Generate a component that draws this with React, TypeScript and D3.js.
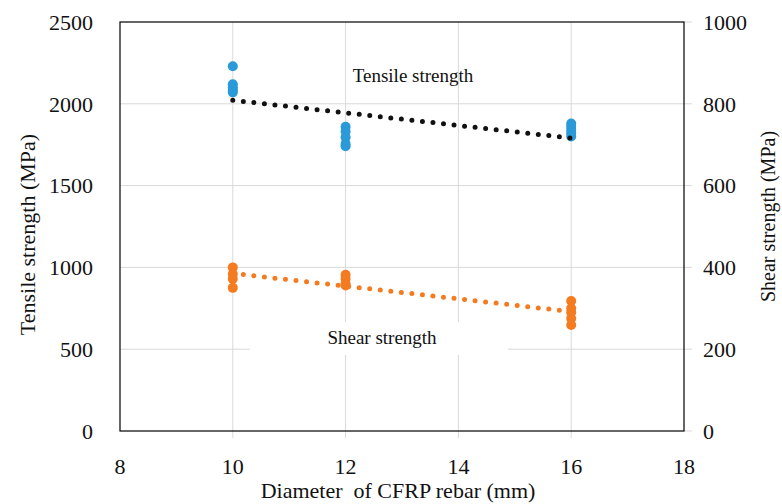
import React, { useEffect, useRef } from 'react';
import * as d3 from 'd3';

// Diameter groups (mm)
const diameters = [10, 12, 16];
// Tensile strength samples (MPa), per diameter
const tensile10 = [2230, 2120, 2100, 2085, 2070];
const tensile12 = [1860, 1830, 1795, 1755, 1740];
const tensile16 = [1880, 1860, 1840, 1820, 1800];
// Shear strength samples (MPa), per diameter
const shear10 = [400, 384, 372, 350];
const shear12 = [382, 372, 360, 356];
const shear16 = [318, 300, 290, 275, 259];

const xTicks = [8, 10, 12, 14, 16, 18];
const leftTicks = [0, 500, 1000, 1500, 2000, 2500];
const rightTicks = [0, 200, 400, 600, 800, 1000];

const W = 782;
const H = 504;
const FONT = '"Liberation Serif", "Times New Roman", serif';

const fitLine = (pts: [number, number][]) => {
  const mx = d3.mean(pts, p => p[0]) as number;
  const my = d3.mean(pts, p => p[1]) as number;
  const num = d3.sum(pts, p => (p[0] - mx) * (p[1] - my));
  const den = d3.sum(pts, p => (p[0] - mx) ** 2);
  const slope = num / den;
  return (x: number) => my + slope * (x - mx);
};

const App = () => {
  const ref = useRef<SVGSVGElement>(null);

  useEffect(() => {
    const svg = d3.select(ref.current);
    svg.selectAll('*').remove();

    const margin = { top: 22, right: 98, bottom: 73, left: 120 };
    const x = d3.scaleLinear().domain([8, 18]).range([margin.left, W - margin.right]);
    const yL = d3.scaleLinear().domain([0, 2500]).range([H - margin.bottom, margin.top]);
    const yR = d3.scaleLinear().domain([0, 1000]).range([H - margin.bottom, margin.top]);
    const x0 = x(8), x1 = x(18), y0 = yL(0), y1 = yL(2500);

    svg.append('rect').attr('width', W).attr('height', H).attr('fill', '#fff');

    // grid
    const grid = svg.append('g').attr('stroke', '#d9d9d9').attr('stroke-width', 1);
    leftTicks.slice(1, -1).forEach(t => {
      grid.append('line').attr('x1', x0).attr('x2', x1 + 8).attr('y1', yL(t)).attr('y2', yL(t));
    });
    xTicks.slice(1, -1).forEach(t => {
      grid.append('line').attr('x1', x(t)).attr('x2', x(t)).attr('y1', y1).attr('y2', y0 + 7);
    });
    grid.append('line').attr('x1', x1).attr('x2', x1 + 8).attr('y1', y0).attr('y2', y0);
    grid.append('line').attr('x1', x1).attr('x2', x1 + 8).attr('y1', y1).attr('y2', y1);

    const tensile: [number, number][] = [];
    [tensile10, tensile12, tensile16].forEach((arr, i) => arr.forEach(v => tensile.push([diameters[i], v])));
    const shear: [number, number][] = [];
    [shear10, shear12, shear16].forEach((arr, i) => arr.forEach(v => shear.push([diameters[i], v])));

    // label boxes
    svg.append('rect').attr('x', 250).attr('y', 322).attr('width', 258).attr('height', 33).attr('fill', '#fff');

    svg.append('text').attr('x', 413).attr('y', 82).attr('text-anchor', 'middle')
      .style('font-family', FONT).style('font-size', '19px').attr('fill', '#111').text('Tensile strength');
    svg.append('text').attr('x', 382).attr('y', 344).attr('text-anchor', 'middle')
      .style('font-family', FONT).style('font-size', '19px').attr('fill', '#111').text('Shear strength');

    // points
    svg.append('g').selectAll('circle').data(tensile).join('circle')
      .attr('cx', d => x(d[0])).attr('cy', d => yL(d[1])).attr('r', 5).attr('fill', '#2a9ad8');
    svg.append('g').selectAll('circle').data(shear).join('circle')
      .attr('cx', d => x(d[0])).attr('cy', d => yR(d[1])).attr('r', 5).attr('fill', '#f47b20');

    // trendlines
    const ft = fitLine(tensile);
    const fs = fitLine(shear);
    const line = d3.line<number>();
    svg.append('path')
      .attr('d', line([[x(10), yL(ft(10))], [x(16), yL(ft(16))]] as any))
      .attr('stroke', '#111').attr('stroke-width', 5).attr('stroke-linecap', 'round')
      .attr('stroke-dasharray', '0 10.6').attr('fill', 'none');
    svg.append('path')
      .attr('d', line([[x(10), yR(fs(10))], [x(16), yR(fs(16))]] as any))
      .attr('stroke', '#f47b20').attr('stroke-width', 5).attr('stroke-linecap', 'round')
      .attr('stroke-dasharray', '0 10.6').attr('fill', 'none');

    // frame
    svg.append('rect').attr('x', x0).attr('y', y1).attr('width', x1 - x0).attr('height', y0 - y1)
      .attr('fill', 'none').attr('stroke', '#000').attr('stroke-width', 1.2);

    const lbl = (s: d3.Selection<SVGTextElement, unknown, null, undefined>, size = 22) =>
      s.style('font-family', FONT).style('font-size', `${size}px`).attr('fill', '#111');

    leftTicks.forEach(t => {
      lbl(svg.append('text').attr('x', 93).attr('y', yL(t)).attr('dy', '0.35em')
        .attr('text-anchor', 'end').text(String(t)));
    });
    rightTicks.forEach(t => {
      lbl(svg.append('text').attr('x', 703).attr('y', yR(t)).attr('dy', '0.35em')
        .attr('text-anchor', 'start').text(String(t)));
    });
    xTicks.forEach(t => {
      lbl(svg.append('text').attr('x', x(t)).attr('y', 466).attr('dy', '0.35em')
        .attr('text-anchor', 'middle').text(String(t)));
    });

    lbl(svg.append('text').attr('x', 398).attr('y', 498).attr('text-anchor', 'middle')
      .attr('xml:space', 'preserve').text('Diameter  of CFRP rebar (mm)'));
    lbl(svg.append('text').attr('transform', `translate(27,${(y0 + y1) / 2 + 8}) rotate(-90)`)
      .attr('dy', '0.35em').attr('text-anchor', 'middle').text('Tensile strength (MPa)'));
    lbl(svg.append('text').attr('transform', `translate(768,${(y0 + y1) / 2 - 10}) rotate(-90)`)
      .attr('dy', '0.35em').attr('text-anchor', 'middle').text('Shear strength (MPa)'), 20);
  }, []);

  return (
    <div style={{ position: 'absolute', left: 0, top: 0 }}>
      <svg ref={ref} width={W} height={H} style={{ display: 'block' }} />
    </div>
  );
};

export default App;
